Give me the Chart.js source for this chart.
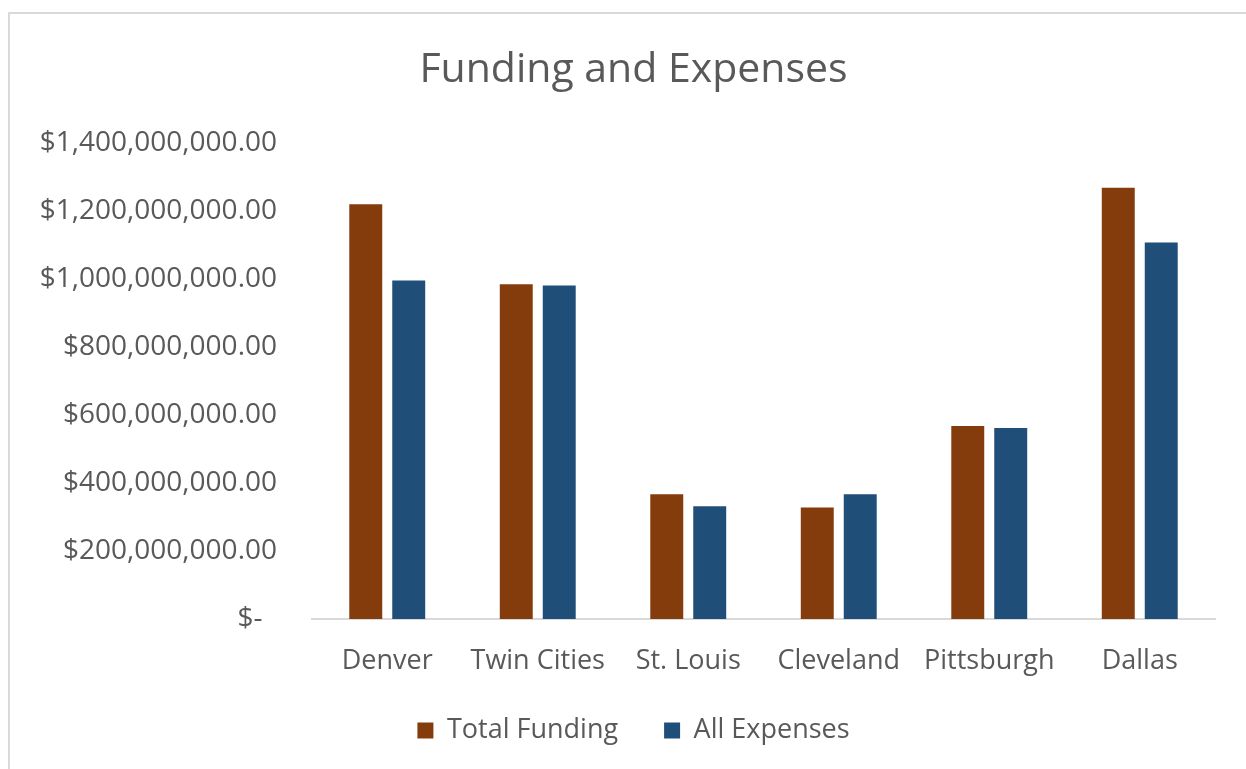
<!DOCTYPE html>
<html>
<head>
<meta charset="utf-8">
<title>Funding and Expenses</title>
<script src="https://cdn.jsdelivr.net/npm/chart.js@4.4.0/dist/chart.umd.min.js"></script>
<style>
  body { margin: 0; background: #fff; overflow: hidden; }
  #frame { position: absolute; left: 8px; top: 12px; width: 1300px; height: 800px; border: 2px solid #d9d9d9; }
  #wrap { position: absolute; left: 0; top: 0; width: 1246px; height: 769px; }
</style>
</head>
<body>
<div id="frame"></div>
<div id="wrap"><canvas id="myChart" width="1246" height="769"></canvas></div>
<script>
// Cities and their funding / expense totals (dollars)
const cities = ['Denver', 'Twin Cities', 'St. Louis', 'Cleveland', 'Pittsburgh', 'Dallas'];
const totalFunding = [1220000000, 985000000, 367000000, 328000000, 568000000, 1269000000];
const allExpenses = [996000000, 981000000, 332000000, 367000000, 562000000, 1108000000];
const yTicks = [0, 200000000, 400000000, 600000000, 800000000, 1000000000, 1200000000, 1400000000];

const textColor = '#595959';
const font = 'Open Sans';

// Accounting style labels: zero shows as a dash
function money(v) {
    if (v === 0) return '$-  ';
    return '$' + v.toLocaleString('en-US', { minimumFractionDigits: 2, maximumFractionDigits: 2 });
}

// Wider gap between legend items without making the legend taller,
// and keep title + legend centred on the whole canvas
const layoutTweaks = {
    id: 'layoutTweaks',
    afterInit: function(chart) {
        const fit = chart.legend.fit;
        chart.legend.fit = function() {
            fit.call(this);
            this.height = 92;
        };
        const shifts = [[chart.legend, 26, -6], [chart.titleBlock, 26, 0]];
        shifts.forEach(function(s) {
            const box = s[0];
            const draw = box.draw;
            box.draw = function() {
                const c = this.ctx;
                c.save();
                c.translate(s[1], s[2]);
                draw.apply(this, arguments);
                c.restore();
            };
        });
    }
};

const ctx = document.getElementById('myChart').getContext('2d');
const chart = new Chart(ctx, {
    type: 'bar',
    data: {
        labels: cities,
        datasets: [{
            label: 'Total Funding',
            data: totalFunding,
            backgroundColor: '#843c0c',
            categoryPercentage: 0.571,
            barPercentage: 0.767
        }, {
            label: 'All Expenses',
            data: allExpenses,
            backgroundColor: '#1f4e79',
            categoryPercentage: 0.571,
            barPercentage: 0.767
        }]
    },
    options: {
        responsive: false,
        animation: false,
        layout: { padding: { left: 0, right: 31, top: 0, bottom: 0 } },
        plugins: {
            title: {
                display: true,
                text: 'Funding and Expenses',
                color: textColor,
                font: { family: font, size: 41, weight: 'normal' },
                padding: { top: 46, bottom: 48 }
            },
            legend: {
                position: 'bottom',
                labels: {
                    color: textColor,
                    font: { family: font, size: 27 },
                    boxWidth: 16,
                    boxHeight: 16,
                    padding: 46
                }
            },
            tooltip: { enabled: false }
        },
        scales: {
            x: {
                grid: { display: false, drawTicks: false },
                border: { display: true, color: '#d9d9d9', width: 2 },
                ticks: { color: textColor, font: { family: font, size: 27 }, padding: 26, maxRotation: 0 },
                afterFit: function(scale) { scale.height = 58; }
            },
            y: {
                min: 0,
                max: 1400000000,
                grid: { display: false, drawTicks: false },
                border: { display: false },
                afterBuildTicks: function(scale) {
                    scale.ticks = yTicks.map(v => ({ value: v }));
                },
                ticks: {
                    color: textColor,
                    font: { family: font, size: 28 },
                    padding: 35,
                    callback: function(value) { return money(value); }
                },
                afterFit: function(scale) { scale.width = 312; }
            }
        }
    },
    plugins: [layoutTweaks]
});
</script>
</body>
</html>
